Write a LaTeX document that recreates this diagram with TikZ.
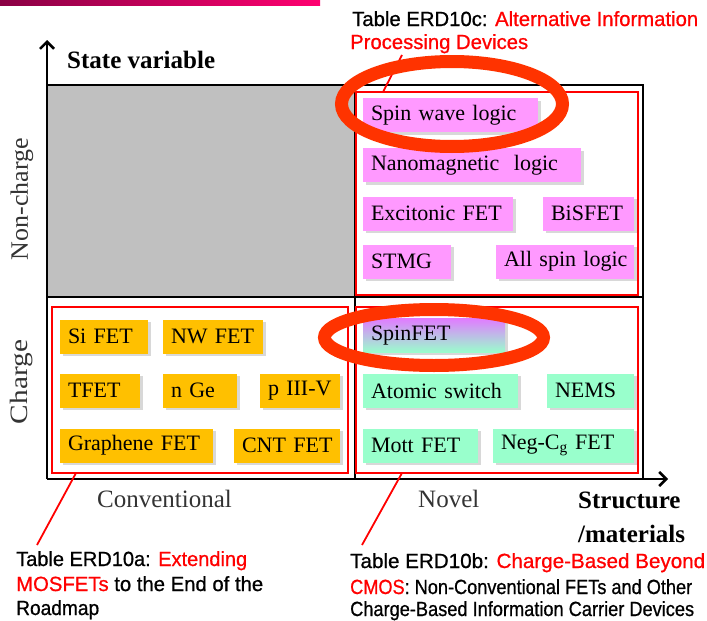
\documentclass[tikz,border=0pt]{standalone}
\usepackage{graphicx}
\usepackage{fontspec}
\setmainfont{Liberation Serif}
\newfontfamily\calloutfont[FakeBold=0.8]{Liberation Sans}
\usetikzlibrary{arrows.meta,shadows}
\definecolor{pinkfill}{HTML}{FF99FF}
\definecolor{orangefill}{HTML}{FFC000}
\definecolor{mintfill}{HTML}{99FFCC}
\definecolor{spintop}{HTML}{E07CFF}
\definecolor{spinmid}{HTML}{80BFFF}
\definecolor{gridgray}{HTML}{C0C0C0}
\definecolor{ellred}{HTML}{FF3300}
\definecolor{calred}{HTML}{FF0000}
\definecolor{barleft}{HTML}{8A0044}
\definecolor{barright}{HTML}{FF0070}
\definecolor{labelgray}{HTML}{333333}
\newcommand{\fitwidth}[2]{\resizebox{#1}{\height}{#2}}
\newcommand{\rd}[1]{\textcolor{calred}{#1}}
\begin{document}
\begin{tikzpicture}[x=1pt,y=-1pt,
  box/.style={inner xsep=8pt, inner ysep=0pt, minimum height=34pt, align=left,
    font=\fontsize{22}{24}\selectfont,
    drop shadow={shadow xshift=2.5pt, shadow yshift=-2.5pt, fill=black!30}},
  pinkbox/.style={box, fill=pinkfill},
  orangebox/.style={box, fill=orangefill},
  mintbox/.style={box, fill=mintfill},
  gridline/.style={line width=2.5pt, black},
  axisline/.style={line width=2.5pt, black, -{Straight Barb[length=7pt,width=14pt]}},
  redrect/.style={draw=calred, line width=2pt, inner sep=0pt},
  leader/.style={calred, line width=1.8pt},
  ellmark/.style={draw=ellred, line width=13pt},
  callout/.style={anchor=base west, inner sep=0pt, font=\calloutfont\fontsize{20.5}{24}\selectfont},
  axislabel/.style={inner sep=0pt, font=\fontsize{25}{28}\selectfont\bfseries},
  catlabel/.style={inner sep=0pt, text=labelgray, font=\fontsize{25}{28}\selectfont}
]
\useasboundingbox (0,0) rectangle (707,621);
% top gradient bar
\shade[left color=barleft, right color=barright] (0,0) rectangle (320,5);

% grey region
\fill[gridgray] (47,85) rectangle (355,297);

% grid lines
\coordinate (O) at (47,479);
\coordinate (Ytip) at (47,40);
\coordinate (Xtip) at (668,479);
\coordinate (TL) at (47,85);
\coordinate (TR) at (643,85);
\coordinate (BR) at (643,479);
\coordinate (ML) at (47,297);
\coordinate (MR) at (643,297);
\coordinate (VT) at (355,85);
\coordinate (VB) at (355,479);
\draw[gridline] (TL) -- (TR) -- (BR);
\draw[gridline] (ML) -- (MR);
\draw[gridline] (VT) -- (VB);
\draw[axisline] (O) -- (Ytip);
\draw[axisline] (O) -- (Xtip);

% red group rectangles
\node[redrect, minimum width=282pt, minimum height=203pt] (rc) at (497,193.5) {};
\node[redrect, minimum width=296pt, minimum height=166pt] (ra) at (200,390) {};
\node[redrect, minimum width=282pt, minimum height=166pt] (rb) at (497,390) {};

% pink boxes
\node[pinkbox, text width=159pt] (spin) at (450.5,115) {\mbox{Spin wave logic}};
\node[pinkbox, text width=202pt] (nano) at (472,165) {\mbox{Nanomagnetic\ \ logic}};
\node[pinkbox, text width=134pt] (exc) at (438,213.5) {\mbox{Excitonic FET}};
\node[pinkbox, text width=75pt] (bis) at (588.5,213.5) {\mbox{BiSFET}};
\node[pinkbox, text width=72pt] (stmg) at (407,261.5) {\mbox{STMG}};
\node[pinkbox, text width=122pt] (allspin) at (565,261.5) {\mbox{All spin logic}};

% orange boxes
\node[orangebox, text width=72pt] (sifet) at (104,336.5) {\mbox{Si FET}};
\node[orangebox, text width=84pt] (nwfet) at (213,336.5) {\mbox{NW FET}};
\node[orangebox, text width=64pt] (tfet) at (100,390.5) {\mbox{TFET}};
\node[orangebox, text width=58pt] (nge) at (200,390.5) {\mbox{n Ge}};
\node[orangebox, text width=64pt] (p3v) at (300,390.5) {\mbox{p III-V}};
\node[orangebox, text width=137pt] (graph) at (136.5,445.5) {\mbox{Graphene FET}};
\node[orangebox, text width=90pt] (cnt) at (287,445.5) {\mbox{CNT FET}};

% mint boxes
\node[box, top color=spintop, middle color=spinmid, bottom color=mintfill, text width=126pt] (spinfet) at (434,335.5) {\mbox{SpinFET}};
\node[mintbox, text width=139pt] (atomic) at (440.5,390.5) {\mbox{Atomic switch}};
\node[mintbox, text width=71pt] (nems) at (590.5,390.5) {\mbox{NEMS}};
\node[mintbox, text width=99pt] (mott) at (420.5,445.5) {\mbox{Mott FET}};
\node[mintbox, text width=125pt] (negcg) at (563.5,445.5) {\mbox{Neg-C\textsubscript{g} FET}};

% axis and category labels
\node[axislabel, anchor=base west] (sv) at (67,68) {State variable};
\node[axislabel, anchor=base west] (struct1) at (578,508) {Structure};
\node[axislabel, anchor=base west] (struct2) at (578,542) {/materials};
\node[catlabel, anchor=base west] (conv) at (97,507) {Conventional};
\node[catlabel, anchor=base west] (novel) at (418,507) {Novel};
\node[catlabel, rotate=90] (noncharge) at (22,199) {\fitwidth{122pt}{Non-charge}};
\node[catlabel, rotate=90] (charge) at (22,382) {\fitwidth{84pt}{Charge}};

% callout texts
\node[callout] (c1a) at (352,26) {\fitwidth{346pt}{Table ERD10c: \rd{Alternative Information}}};
\node[callout] (c1b) at (350,49) {\fitwidth{178pt}{\rd{Processing Devices}}};
\node[callout] (c2a) at (16,566) {\fitwidth{231pt}{Table ERD10a: \rd{Extending}}};
\node[callout] (c2b) at (16,591) {\fitwidth{247pt}{\rd{MOSFETs} to the End of the}};
\node[callout] (c2c) at (16,615) {\fitwidth{83pt}{Roadmap}};
\node[callout] (c3a) at (350,568) {\fitwidth{355pt}{Table ERD10b: \rd{Charge-Based Beyond}}};
\node[callout] (c3b) at (350,594) {\fitwidth{342pt}{\rd{CMOS}: Non-Conventional FETs and Other}};
\node[callout] (c3c) at (350,616) {\fitwidth{344pt}{Charge-Based Information Carrier Devices}};

% leader lines
\coordinate (l1a) at (402,55);
\coordinate (l1b) at (383,92);
\coordinate (l2a) at (76,473);
\coordinate (l2b) at (37,545);
\coordinate (l3a) at (402,473);
\coordinate (l3b) at (362,545);
\draw[leader] (l1a) -- (l1b);
\draw[leader] (l2a) -- (l2b);
\draw[leader] (l3a) -- (l3b);

% highlight ellipses
\draw[ellmark] (452,104) ellipse [x radius=110.5pt, y radius=42.5pt];
\draw[ellmark] (434,337.5) ellipse [x radius=109.5pt, y radius=28pt];
\end{tikzpicture}
\end{document}
